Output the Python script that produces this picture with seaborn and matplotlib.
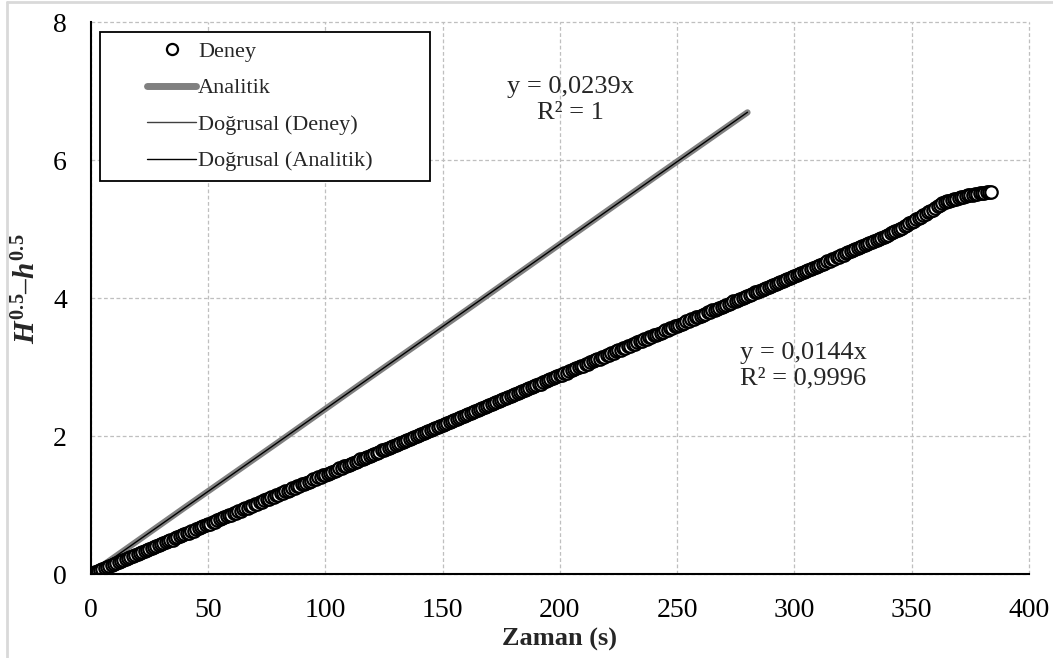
import numpy as np
import pandas as pd
import matplotlib
matplotlib.use("Agg")
import matplotlib.pyplot as plt
import seaborn as sns
from matplotlib.lines import Line2D
from matplotlib.legend_handler import HandlerLine2D
from matplotlib.ticker import MultipleLocator

# ---------------- data ----------------
time_s = list(range(0, 385))  # sampling times (s), one reading per second
deney = [
    0.00, 0.01, 0.03, 0.04, 0.06, 0.07, 0.09, 0.10, 0.12, 0.13,
    0.14, 0.16, 0.17, 0.19, 0.20, 0.22, 0.23, 0.24, 0.26, 0.27,
    0.29, 0.30, 0.32, 0.33, 0.35, 0.36, 0.37, 0.39, 0.40, 0.42,
    0.43, 0.45, 0.46, 0.48, 0.49, 0.50, 0.52, 0.53, 0.55, 0.56,
    0.58, 0.59, 0.60, 0.62, 0.63, 0.65, 0.66, 0.68, 0.69, 0.71,
    0.72, 0.73, 0.75, 0.76, 0.78, 0.79, 0.81, 0.82, 0.84, 0.85,
    0.86, 0.88, 0.89, 0.91, 0.92, 0.94, 0.95, 0.96, 0.98, 0.99,
    1.01, 1.02, 1.04, 1.05, 1.07, 1.08, 1.09, 1.11, 1.12, 1.14,
    1.15, 1.17, 1.18, 1.20, 1.21, 1.22, 1.24, 1.25, 1.27, 1.28,
    1.30, 1.31, 1.32, 1.34, 1.35, 1.37, 1.38, 1.40, 1.41, 1.43,
    1.44, 1.45, 1.47, 1.48, 1.50, 1.51, 1.53, 1.54, 1.56, 1.57,
    1.58, 1.60, 1.61, 1.63, 1.64, 1.66, 1.67, 1.68, 1.70, 1.71,
    1.73, 1.74, 1.76, 1.77, 1.79, 1.80, 1.81, 1.83, 1.84, 1.86,
    1.87, 1.89, 1.90, 1.92, 1.93, 1.94, 1.96, 1.97, 1.99, 2.00,
    2.02, 2.03, 2.04, 2.06, 2.07, 2.09, 2.10, 2.12, 2.13, 2.15,
    2.16, 2.17, 2.19, 2.20, 2.22, 2.23, 2.25, 2.26, 2.28, 2.29,
    2.30, 2.32, 2.33, 2.35, 2.36, 2.38, 2.39, 2.40, 2.42, 2.43,
    2.45, 2.46, 2.48, 2.49, 2.51, 2.52, 2.53, 2.55, 2.56, 2.58,
    2.59, 2.61, 2.62, 2.64, 2.65, 2.66, 2.68, 2.69, 2.71, 2.72,
    2.74, 2.75, 2.76, 2.78, 2.79, 2.81, 2.82, 2.84, 2.85, 2.87,
    2.88, 2.89, 2.91, 2.92, 2.94, 2.95, 2.97, 2.98, 3.00, 3.01,
    3.02, 3.04, 3.05, 3.07, 3.08, 3.10, 3.11, 3.12, 3.14, 3.15,
    3.17, 3.18, 3.20, 3.21, 3.23, 3.24, 3.25, 3.27, 3.28, 3.30,
    3.31, 3.33, 3.34, 3.36, 3.37, 3.38, 3.40, 3.41, 3.43, 3.44,
    3.46, 3.47, 3.48, 3.50, 3.51, 3.53, 3.54, 3.56, 3.57, 3.59,
    3.60, 3.61, 3.63, 3.64, 3.66, 3.67, 3.69, 3.70, 3.72, 3.73,
    3.74, 3.76, 3.77, 3.79, 3.80, 3.82, 3.83, 3.84, 3.86, 3.87,
    3.89, 3.90, 3.92, 3.93, 3.95, 3.96, 3.97, 3.99, 4.00, 4.02,
    4.03, 4.05, 4.06, 4.08, 4.09, 4.10, 4.12, 4.13, 4.15, 4.16,
    4.18, 4.19, 4.20, 4.22, 4.23, 4.25, 4.26, 4.28, 4.29, 4.31,
    4.32, 4.33, 4.35, 4.36, 4.38, 4.39, 4.41, 4.42, 4.44, 4.45,
    4.47, 4.48, 4.50, 4.51, 4.53, 4.54, 4.56, 4.57, 4.59, 4.60,
    4.62, 4.63, 4.65, 4.66, 4.68, 4.69, 4.71, 4.72, 4.74, 4.75,
    4.77, 4.78, 4.80, 4.81, 4.83, 4.84, 4.86, 4.87, 4.89, 4.90,
    4.92, 4.94, 4.95, 4.97, 4.99, 5.00, 5.02, 5.04, 5.06, 5.08,
    5.10, 5.12, 5.14, 5.16, 5.18, 5.20, 5.22, 5.24, 5.26, 5.28,
    5.31, 5.33, 5.35, 5.37, 5.39, 5.40, 5.41, 5.42, 5.43, 5.44,
    5.45, 5.46, 5.47, 5.48, 5.49, 5.50, 5.50, 5.51, 5.51, 5.52,
    5.52, 5.52, 5.53, 5.53, 5.53,
]
analitik_t = [0, 40, 80, 120, 160, 200, 240, 280]
analitik = [0.00, 0.96, 1.91, 2.87, 3.82, 4.78, 5.74, 6.69]

legend_labels = ["Deney", "Analitik", "Doğrusal (Deney)", "Doğrusal (Analitik)"]
eq_deney = "y = 0,0144x\nR² = 0,9996"
eq_analitik = "y = 0,0239x\nR² = 1"
x_label = "Zaman (s)"
y_label = r"$H^{\mathbf{0.5}}$–$h^{\mathbf{0.5}}$"

df_deney = pd.DataFrame({"t": time_s, "v": deney})
df_anal = pd.DataFrame({"t": analitik_t, "v": analitik})

# least-squares trend lines through origin
xd, yd = np.array(time_s, float), np.array(deney, float)
slope_d = (xd * yd).sum() / (xd * xd).sum()
xa, ya = np.array(analitik_t, float), np.array(analitik, float)
slope_a = (xa * ya).sum() / (xa * xa).sum()
df_tr_d = pd.DataFrame({"t": [0, time_s[-1]], "v": [0, slope_d * time_s[-1]]})
df_tr_a = pd.DataFrame({"t": [0, analitik_t[-1]], "v": [0, slope_a * analitik_t[-1]]})

# ---------------- style ----------------
sns.set_style("white")
plt.rcParams["font.family"] = ["Liberation Serif", "DejaVu Serif"]
plt.rcParams["mathtext.fontset"] = "custom"
plt.rcParams["mathtext.rm"] = "Liberation Serif"
plt.rcParams["mathtext.it"] = "Liberation Serif:italic:bold"
plt.rcParams["mathtext.bf"] = "Liberation Serif:bold"

W, H = 1053, 658
fig = plt.figure(figsize=(W / 100, H / 100), dpi=100)
x0, x1, yb, yt = 90.6, 1029, 574, 22
ax = fig.add_axes([x0 / W, 1 - yb / H, (x1 - x0) / W, (yb - yt) / H])

# analytic (thick gray)
sns.lineplot(data=df_anal, x="t", y="v", ax=ax, color="#808080", lw=4.5,
             estimator=None, sort=False, legend=False, zorder=3)
# trend line analytic
sns.lineplot(data=df_tr_a, x="t", y="v", ax=ax, color="black", lw=1.0,
             estimator=None, sort=False, legend=False, zorder=4)
# experimental points
sns.scatterplot(data=df_deney, x="t", y="v", ax=ax, marker="o", s=80,
                facecolor="white", edgecolor="black", linewidth=1.6,
                legend=False, zorder=5)
# trend line experiment
sns.lineplot(data=df_tr_d, x="t", y="v", ax=ax, color="#404040", lw=1.0,
             estimator=None, sort=False, legend=False, zorder=4)

ax.set_xlim(0, 400)
ax.set_ylim(0, 8)
ax.xaxis.set_major_locator(MultipleLocator(50))
ax.xaxis.set_minor_locator(MultipleLocator(10))
ax.yaxis.set_major_locator(MultipleLocator(2))
ax.yaxis.set_minor_locator(MultipleLocator(1))
ax.grid(True, which="major", ls=(0, (3, 2)), color="#bfbfbf", lw=0.9)
for gl in ax.get_xgridlines() + ax.get_ygridlines():
    gl.set_clip_on(False)
for s in ["top", "right"]:
    ax.spines[s].set_visible(False)
for s in ["left", "bottom"]:
    ax.spines[s].set_color("black")
    ax.spines[s].set_linewidth(1.5)
    ax.spines[s].set_zorder(6)
ax.tick_params(which="major", direction="out", length=6, width=1.4,
               labelsize=20, pad=11, colors="black")
ax.tick_params(which="minor", direction="out", length=5, width=1.4, colors="black")

ax.set_xlabel(x_label, fontsize=19, fontweight="bold", labelpad=4)
ax.set_ylabel(y_label, fontsize=21, fontweight="bold")
ax.yaxis.set_label_coords(-0.053, 0.516)

ax.text(204.5, 6.87, eq_analitik, ha="center", va="center", fontsize=19,
        linespacing=1.2)
ax.text(277, 3.02, eq_deney, ha="left", va="center", fontsize=19,
        linespacing=1.2)

handles = [
    Line2D([], [], ls="none", marker="o", ms=8, mfc="white", mec="black", mew=1.6),
    Line2D([], [], color="#808080", lw=5, solid_capstyle="round"),
    Line2D([], [], color="#404040", lw=1.0),
    Line2D([], [], color="black", lw=1.0),
]
leg = ax.legend(handles, legend_labels, loc="upper left",
                bbox_to_anchor=(0.010, 0.5, 0.352, 0.482), mode="expand",
                borderaxespad=0, fontsize=16, handlelength=3.9,
                handletextpad=0.1, labelspacing=0.72, borderpad=0.42,
                frameon=True, fancybox=False, framealpha=1, edgecolor="black",
                handler_map={Line2D: HandlerLine2D(xpad=1.7)})
leg.get_frame().set_linewidth(1.3)
leg.set_zorder(10)

# light outer border
fig.add_artist(Line2D([7 / W, 7 / W], [0, 1 - 1.5 / H], color="#d9d9d9", lw=2,
                      transform=fig.transFigure))
fig.add_artist(Line2D([7 / W, 1], [1 - 1.5 / H, 1 - 1.5 / H], color="#d9d9d9", lw=2,
                      transform=fig.transFigure))

fig.savefig("out.png", dpi=100)
